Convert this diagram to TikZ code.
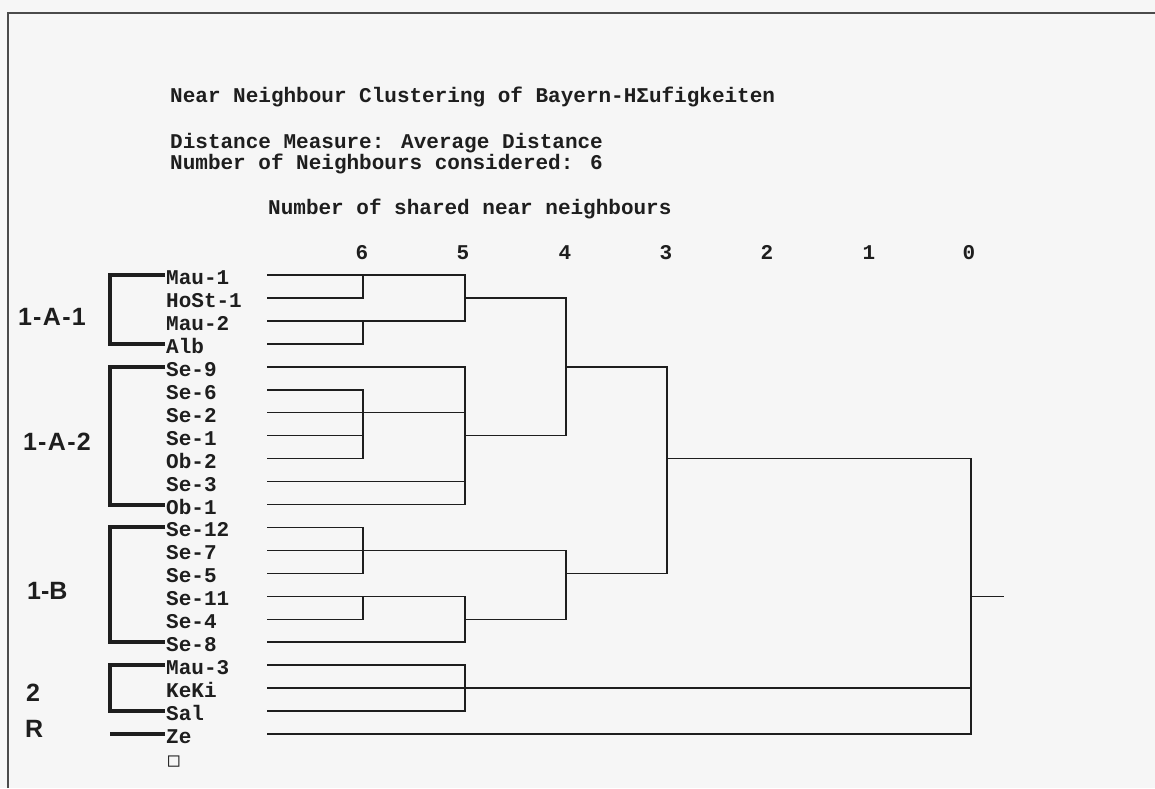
\documentclass[tikz,border=0pt]{standalone}
\usepackage{fontspec}
\newfontfamily\monofnt{Liberation Mono}
\newfontfamily\grpfnt{Liberation Sans}
\newfontfamily\symfnt{DejaVu Sans Mono}
\definecolor{ink}{HTML}{1E1E1E}
\definecolor{paper}{HTML}{F6F6F6}
\begin{document}
\begin{tikzpicture}[x=1pt,y=-1pt,
  mtxt/.style={font={\monofnt\bfseries\fontsize{21}{21}\selectfont}, text=ink, inner sep=0pt, anchor=base west},
  numl/.style={font={\monofnt\bfseries\fontsize{21}{21}\selectfont}, text=ink, inner sep=0pt, anchor=base},
  grp/.style={font={\grpfnt\bfseries\fontsize{25}{25}\selectfont}, text=ink, inner sep=0pt, anchor=base west},
  dl/.style={draw=ink, line width=1.5pt, line cap=rect},
  brk/.style={draw=ink, line width=4pt, line join=miter},
  frm/.style={draw=ink!80, line width=1.4pt}]
\useasboundingbox (0,0) rectangle (1155,788);
\fill[paper] (0,0) rectangle (1155,788);
% frame
\coordinate (fTL) at (8,13);
\coordinate (fTR) at (1155,13);
\coordinate (fBL) at (8,788);
\draw[frm] (fBL) -- (fTL) -- (fTR);
% header texts
\node[mtxt] (title) at (170,102) {Near Neighbour Clustering of Bayern-HΣufigkeiten};
\node[mtxt] (dist) at (170,148) {Distance Measure: Average Distance};
\node[mtxt] (nbrs) at (170,169) {Number of Neighbours considered: 6};
\node[mtxt] (shared) at (268,214) {Number of shared near neighbours};
% level numbers
\foreach \v/\x in {6/362,5/463,4/565,3/666,2/767,1/869,0/969}
  \node[numl] (k\v) at (\x,259) {\v};
% row coordinates
\foreach \i in {0,...,21}
  \coordinate (r\i) at (268,{275+22.95*\i});
\coordinate (L6) at (363,0);
\coordinate (L5) at (465,0);
\coordinate (L4) at (566,0);
\coordinate (L3) at (667,0);
\coordinate (L0) at (971,0);
\coordinate (E) at (1003,0);
\coordinate (B) at (110,0);
\coordinate (C) at (165,0);
% leaf labels
\foreach \i/\t in {0/Mau-1,1/HoSt-1,2/Mau-2,3/Alb,4/Se-9,5/Se-6,6/Se-2,7/Se-1,8/Ob-2,9/Se-3,10/Ob-1,11/Se-12,12/Se-7,13/Se-5,14/Se-11,15/Se-4,16/Se-8,17/Mau-3,18/KeKi,19/Sal,20/Ze}
  \node[mtxt] (n\i) at (166,{284.5+22.95*\i}) {\t};
\node[mtxt, font={\symfnt\fontsize{19}{19}\selectfont}] (n21) at (168,{284.5+22.95*21}) {□};
% group labels
\node[grp] (g1) at (18,325) {1\kern1pt-\kern1.5pt A\kern1.5pt-\kern1pt 1};
\node[grp] (g2) at (23,450.7) {1\kern1pt-\kern1.5pt A\kern1.5pt-\kern1pt 2};
\node[grp] (g3) at (27,599) {1-B};
\node[grp] (g4) at (26,701.7) {2};
\node[grp] (g5) at (25,737) {R};
% brackets
\draw[brk] (r0 -| C) -- (r0 -| B) -- (r3 -| B) -- (r3 -| C);
\draw[brk] (r4 -| C) -- (r4 -| B) -- (r10 -| B) -- (r10 -| C);
\draw[brk] (r11 -| C) -- (r11 -| B) -- (r16 -| B) -- (r16 -| C);
\draw[brk] (r17 -| C) -- (r17 -| B) -- (r19 -| B) -- (r19 -| C);
\draw[brk] (r20 -| B) -- (r20 -| C);
% leaf lines
\foreach \i/\L in {0/L5,1/L6,2/L5,3/L6,4/L5,5/L6,6/L5,7/L6,8/L6,9/L5,10/L5,11/L6,12/L4,13/L6,14/L5,15/L6,16/L5,17/L5,18/L0,19/L5,20/L0}
  \draw[dl] (r\i) -- (r\i -| \L);
% inner links
\draw[dl] (r1 -| L5) -- (r1 -| L4);
\draw[dl] (r4 -| L4) -- (r4 -| L3);
\draw[dl] (r7 -| L5) -- (r7 -| L4);
\draw[dl] (r8 -| L3) -- (r8 -| L0);
\draw[dl] (r13 -| L4) -- (r13 -| L3);
\draw[dl] (r15 -| L5) -- (r15 -| L4);
\draw[dl] (r14 -| L0) -- (r14 -| E);
% verticals
\foreach \a/\b/\L in {0/1/L6,2/3/L6,5/8/L6,11/13/L6,14/15/L6,0/2/L5,4/10/L5,14/16/L5,17/19/L5,1/7/L4,12/15/L4,4/13/L3,8/20/L0}
  \draw[dl] (r\a -| \L) -- (r\b -| \L);
\end{tikzpicture}
\end{document}
